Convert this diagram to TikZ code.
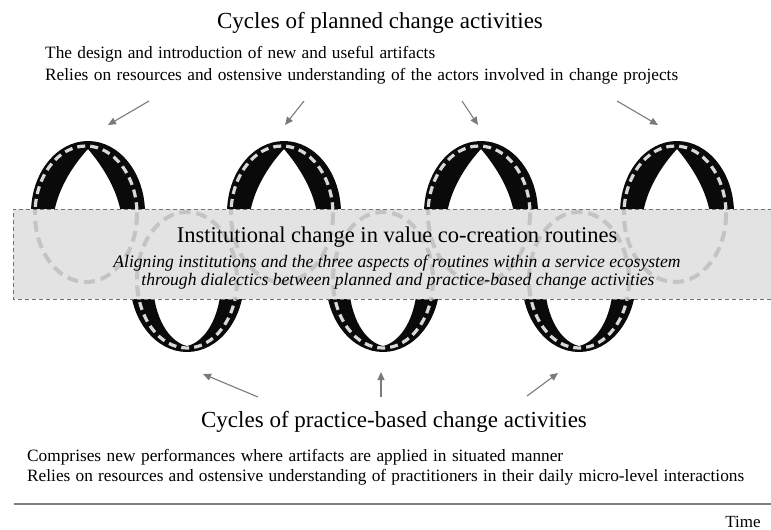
\documentclass[tikz,border=0pt]{standalone}
\usepackage{fontspec}
\setmainfont{Liberation Serif}
\usetikzlibrary{arrows.meta}
\tikzset{
  ribbon/.style={fill=black!96},
  roaddash/.style={draw=black!15, line width=3.2pt, dash pattern=on 8pt off 5pt},
  ghost/.style={draw=black!23, line width=4pt, dash pattern=on 11pt off 6pt},
  bandfill/.style={fill=black!11},
  bandedge/.style={draw=black!55, line width=0.9pt, dash pattern=on 4pt off 3pt},
  pointer/.style={draw=black!52, line width=1.1pt, -{Triangle[length=8pt,width=7pt]}},
  bigtitle/.style={anchor=base, inner sep=0pt, font=\fontsize{23}{27}\selectfont},
  plain/.style={anchor=base west, inner sep=0pt, font=\fontsize{17.3}{20}\selectfont},
  bandtitle/.style={anchor=base, inner sep=0pt, font=\fontsize{22.5}{26}\selectfont},
  banditalic/.style={anchor=base, inner sep=0pt, font=\fontsize{17.6}{20}\selectfont\itshape},
}
\begin{document}
\begin{tikzpicture}[x=1pt,y=-1pt]
\useasboundingbox (0,0) rectangle (771,530);

% upper halves of the coil
\foreach \cx in {87,283,480,676}{
  \fill[ribbon] ({\cx-56},213) arc[start angle=180,end angle=360,x radius=57,y radius=72]
     -- ({\cx+34},213) .. controls ({\cx+29},185) and ({\cx+12},162) .. ({\cx+1},149)
     .. controls ({\cx-11},162) and ({\cx-28},185) .. ({\cx-33},213) -- cycle;
  \draw[roaddash] ({\cx-1},214) ellipse[x radius=51,y radius=68];
}
% lower halves of the coil
\foreach \cx in {187,383,579}{
  \fill[ribbon] ({\cx-57},280) arc[start angle=180,end angle=0,x radius=57,y radius=72]
     -- ({\cx+34},288) .. controls ({\cx+31},325) and ({\cx+14},343) .. ({\cx},346)
     .. controls ({\cx-14},343) and ({\cx-31},325) .. ({\cx-34},288) -- cycle;
  \draw[roaddash] (\cx,280) ellipse[x radius=50,y radius=68];
}

% band
\fill[bandfill] (13,209) rectangle (771,299);
\begin{scope}
  \clip (13,209) rectangle (771,299);
  \foreach \cx in {87,283,480,676}{
    \draw[ghost] ({\cx-1},214) ellipse[x radius=51,y radius=68];
  }
  \foreach \cx in {187,383,579}{
    \draw[ghost] (\cx,280) ellipse[x radius=50,y radius=68];
  }
\end{scope}
\draw[bandedge] (772,209) -- (13,209) -- (13,299) -- (772,299);

\node[bandtitle] (inst) at (397,242) {Institutional change in value co-creation routines};
\node[banditalic] (inst1) at (397,267) {Aligning institutions and the three aspects of routines within a service ecosystem};
\node[banditalic] (inst2) at (398,285) {through dialectics between planned and practice-based change activities};

% top texts
\node[bigtitle] (plan) at (380,28) {Cycles of planned change activities};
\node[plain] (plan1) at (45,58) {\makebox[390pt][s]{The design and introduction of new and useful artifacts}};
\node[plain] (plan2) at (45,80) {\makebox[633pt][s]{Relies on resources and ostensive understanding of the actors involved in change projects}};

% bottom texts
\node[bigtitle] (prac) at (394,427) {Cycles of practice-based change activities};
\node[plain] (prac1) at (27,461) {\makebox[536pt][s]{Comprises new performances where artifacts are applied in situated manner}};
\node[plain] (prac2) at (27,481) {\makebox[717pt][s]{Relies on resources and ostensive understanding of practitioners in their daily micro-level interactions}};

% top arrows
\coordinate (t1) at (149,101); \coordinate (h1) at (108,125);
\coordinate (t2) at (304,101); \coordinate (h2) at (285,125);
\coordinate (t3) at (462,101); \coordinate (h3) at (478,125);
\coordinate (t4) at (617,101); \coordinate (h4) at (658,125);
\foreach \i in {1,2,3,4}{\draw[pointer] (t\i) -- (h\i);}

% bottom arrows
\coordinate (b1) at (258,397); \coordinate (g1) at (203,374);
\coordinate (b2) at (381,397); \coordinate (g2) at (381,372);
\coordinate (b3) at (527,396); \coordinate (g3) at (558,373);
\foreach \i in {1,2,3}{\draw[pointer] (b\i) -- (g\i);}

% time axis
\coordinate (axisL) at (14,504); \coordinate (axisR) at (771,504);
\draw[draw=black!50, line width=2pt] (axisL) -- (axisR);
\node[anchor=base, inner sep=0pt, font=\fontsize{17}{20}\selectfont] (time) at (743,527) {Time};
\end{tikzpicture}
\end{document}
